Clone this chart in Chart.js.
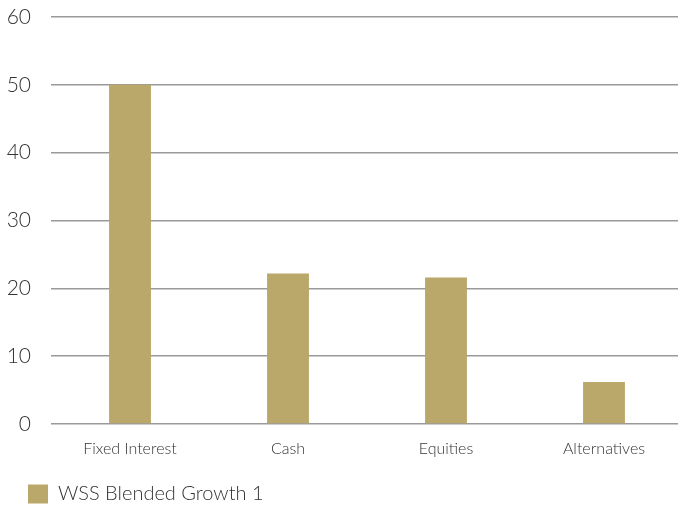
<!DOCTYPE html>
<html>
<head>
<meta charset="utf-8">
<script src="https://cdn.jsdelivr.net/npm/chart.js@4"></script>
<style>
    html, body { margin: 0; padding: 0; overflow: hidden; background: #fff; }
    .chart-container { width: 683px; height: 512px; }
</style>
</head>
<body>
<div class="chart-container">
    <canvas id="allocationChart"></canvas>
</div>
<script>
// Asset allocation data.
const categories = ["Fixed Interest", "Cash", "Equities", "Alternatives"];
const seriesName = "WSS Blended Growth 1";
const values = [50, 22.2, 21.6, 6.2];
const yTicks = [0, 10, 20, 30, 40, 50, 60];

const barColor = "#baa76a";
const gridColor = "#9a9a9a";
const textColor = "#333333";

// Nudge the legend to where the reference has it.
const legendOffset = {
    id: "legendOffset",
    afterLayout(chart) {
        chart.legend.left += 16;
        chart.legend.right += 16;
        chart.legend.top += 2;
        chart.legend.bottom += 2;
    }
};

const ctx = document.querySelector("#allocationChart").getContext("2d");

new Chart(ctx, {
    type: "bar",
    data: {
        labels: categories,
        datasets: [{
            label: seriesName,
            data: values,
            backgroundColor: barColor,
            borderWidth: 0,
            barPercentage: 0.53,
            categoryPercentage: 0.5
        }]
    },
    plugins: [legendOffset],
    options: {
        responsive: true,
        maintainAspectRatio: false,
        animation: false,
        layout: {
            padding: { top: 17, left: 4, right: 0, bottom: 0 }
        },
        plugins: {
            legend: {
                display: true,
                position: "bottom",
                align: "start",
                labels: {
                    color: textColor,
                    boxWidth: 20,
                    boxHeight: 19,
                    padding: 8,
                    font: { family: "Lato", weight: 300, size: 20 }
                }
            },
            tooltip: { enabled: false }
        },
        scales: {
            x: {
                grid: { display: false },
                border: { display: false },
                afterFit: axis => {
                    axis.height = 50;
                },
                ticks: {
                    color: textColor,
                    padding: 7,
                    font: { family: "Lato", weight: 300, size: 16 }
                }
            },
            y: {
                min: 0,
                max: 60,
                afterBuildTicks: axis => {
                    axis.ticks = yTicks.map(v => ({ value: v }));
                },
                afterFit: axis => {
                    axis.width = 47;
                    axis.paddingTop = 0;
                    axis.paddingBottom = 0;
                },
                grid: {
                    color: gridColor,
                    lineWidth: 1.5,
                    drawTicks: false
                },
                border: { display: false },
                ticks: {
                    color: textColor,
                    padding: 20,
                    font: { family: "Lato", weight: 300, size: 21 }
                }
            }
        }
    }
});
</script>
</body>
</html>
